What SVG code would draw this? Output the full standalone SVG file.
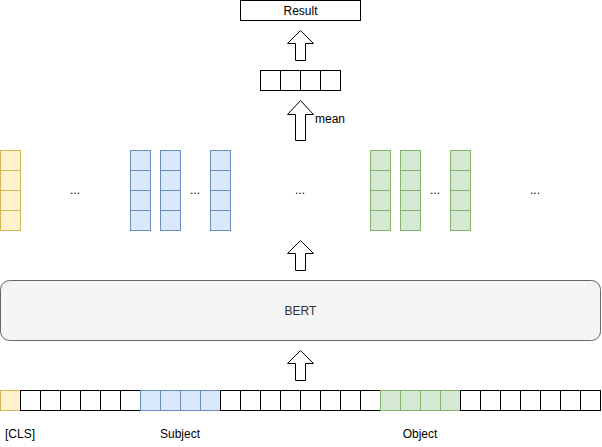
<svg xmlns="http://www.w3.org/2000/svg" width="602" height="447" viewBox="0 0 602 447">
<style>
text{font-family:"Liberation Sans",Arial,sans-serif;font-size:12px;fill:#000}
.w{fill:#fff;stroke:#000;stroke-width:1}
.y{fill:#fff2cc;stroke:#d6b656;stroke-width:1}
.b{fill:#dae8fc;stroke:#6c8ebf;stroke-width:1}
.g{fill:#d5e8d4;stroke:#82b366;stroke-width:1}
.arr{fill:#fff;stroke:#000;stroke-width:1}
</style>
<defs>
<g id="col-y"><rect class="y" x="0" y="0" width="20" height="20"/><rect class="y" x="0" y="20" width="20" height="20"/><rect class="y" x="0" y="40" width="20" height="20"/><rect class="y" x="0" y="60" width="20" height="20"/></g>
<g id="col-b"><rect class="b" x="0" y="0" width="20" height="20"/><rect class="b" x="0" y="20" width="20" height="20"/><rect class="b" x="0" y="40" width="20" height="20"/><rect class="b" x="0" y="60" width="20" height="20"/></g>
<g id="col-g"><rect class="g" x="0" y="0" width="20" height="20"/><rect class="g" x="0" y="20" width="20" height="20"/><rect class="g" x="0" y="40" width="20" height="20"/><rect class="g" x="0" y="60" width="20" height="20"/></g>
<path id="up" class="arr" d="M13,0 L26,13 L18,13 L18,30 L8,30 L8,13 L0,13 Z"/>
</defs>

<g id="result"><rect class="w" x="240.5" y="0.5" width="120" height="20"/><text x="300.5" y="14.5" text-anchor="middle">Result</text></g>

<g id="pooled">
<rect class="w" x="260.5" y="70.5" width="20" height="20"/><rect class="w" x="280.5" y="70.5" width="20" height="20"/><rect class="w" x="300.5" y="70.5" width="20" height="20"/><rect class="w" x="320.5" y="70.5" width="20" height="20"/>
</g>

<g id="connectors">
<use href="#up" x="287.5" y="30.5"/>
<path class="arr" d="M300.5,100.5 L313.5,114.5 L305.5,114.5 L305.5,140.5 L295.5,140.5 L295.5,114.5 L287.5,114.5 Z"/>
<use href="#up" x="287.5" y="240.5"/>
<use href="#up" x="287.5" y="350.5"/>
<text x="315" y="123">mean</text>
</g>

<g id="embeddings">
<use href="#col-y" x="0.5" y="150.5"/>
<use href="#col-b" x="130.5" y="150.5"/>
<use href="#col-b" x="160.5" y="150.5"/>
<use href="#col-b" x="210.5" y="150.5"/>
<use href="#col-g" x="370.5" y="150.5"/>
<use href="#col-g" x="400.5" y="150.5"/>
<use href="#col-g" x="450.5" y="150.5"/>
<text x="75" y="194" text-anchor="middle">...</text>
<text x="195" y="194" text-anchor="middle">...</text>
<text x="300" y="194" text-anchor="middle">...</text>
<text x="435" y="194" text-anchor="middle">...</text>
<text x="535" y="194" text-anchor="middle">...</text>
</g>

<g id="bert"><rect x="0.5" y="280.5" width="600" height="60" rx="9" ry="9" fill="#f5f5f5" stroke="#666" stroke-width="1"/><text x="300.5" y="314.5" text-anchor="middle" style="fill:#333">BERT</text></g>

<g id="tokens">
<rect class="y" x="0.5" y="390.5" width="20" height="20"/>
<rect class="w" x="20.5" y="390.5" width="20" height="20"/><rect class="w" x="40.5" y="390.5" width="20" height="20"/><rect class="w" x="60.5" y="390.5" width="20" height="20"/><rect class="w" x="80.5" y="390.5" width="20" height="20"/><rect class="w" x="100.5" y="390.5" width="20" height="20"/><rect class="w" x="120.5" y="390.5" width="20" height="20"/>
<rect class="b" x="140.5" y="390.5" width="20" height="20"/><rect class="b" x="160.5" y="390.5" width="20" height="20"/><rect class="b" x="180.5" y="390.5" width="20" height="20"/><rect class="b" x="200.5" y="390.5" width="20" height="20"/>
<rect class="w" x="220.5" y="390.5" width="20" height="20"/><rect class="w" x="240.5" y="390.5" width="20" height="20"/><rect class="w" x="260.5" y="390.5" width="20" height="20"/><rect class="w" x="280.5" y="390.5" width="20" height="20"/><rect class="w" x="300.5" y="390.5" width="20" height="20"/><rect class="w" x="320.5" y="390.5" width="20" height="20"/><rect class="w" x="340.5" y="390.5" width="20" height="20"/><rect class="w" x="360.5" y="390.5" width="20" height="20"/>
<rect class="g" x="380.5" y="390.5" width="20" height="20"/><rect class="g" x="400.5" y="390.5" width="20" height="20"/><rect class="g" x="420.5" y="390.5" width="20" height="20"/><rect class="g" x="440.5" y="390.5" width="20" height="20"/>
<rect class="w" x="460.5" y="390.5" width="20" height="20"/><rect class="w" x="480.5" y="390.5" width="20" height="20"/><rect class="w" x="500.5" y="390.5" width="20" height="20"/><rect class="w" x="520.5" y="390.5" width="20" height="20"/><rect class="w" x="540.5" y="390.5" width="20" height="20"/><rect class="w" x="560.5" y="390.5" width="20" height="20"/><rect class="w" x="580.5" y="390.5" width="20" height="20"/>
</g>

<g id="labels">
<text x="5" y="438">[CLS]</text>
<text x="180" y="438" text-anchor="middle">Subject</text>
<text x="420" y="438" text-anchor="middle">Object</text>
</g>
</svg>
